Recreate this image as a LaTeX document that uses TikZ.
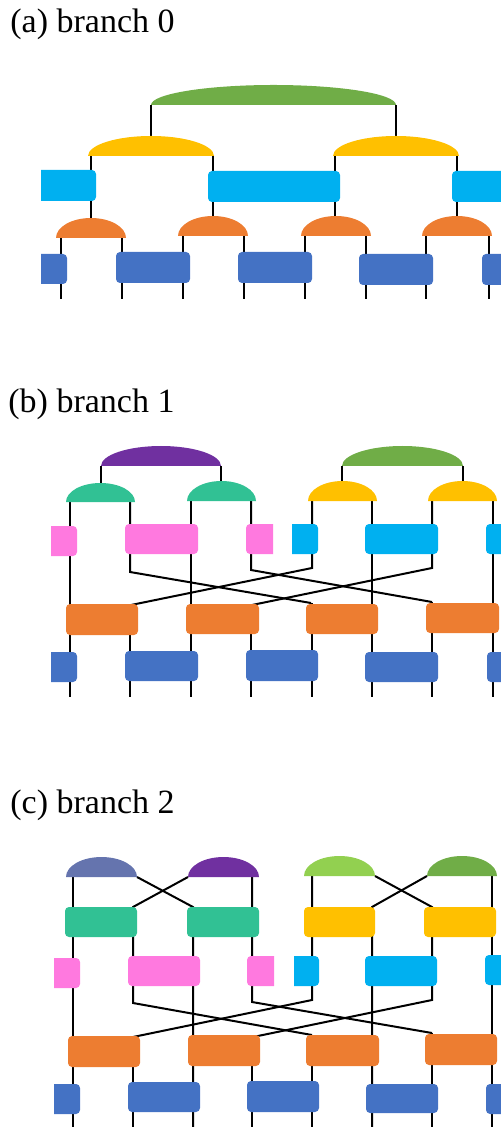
\documentclass[tikz,border=0pt]{standalone}
\usepackage{fontspec}
\setmainfont{Liberation Serif}
\definecolor{cgreen}{HTML}{70AD47}
\definecolor{clgreen}{HTML}{92D050}
\definecolor{cyellow}{HTML}{FFC000}
\definecolor{ccyan}{HTML}{00B0F0}
\definecolor{corange}{HTML}{ED7D31}
\definecolor{cblue}{HTML}{4472C4}
\definecolor{cpurple}{HTML}{7030A0}
\definecolor{cteal}{HTML}{31C194}
\definecolor{cpink}{HTML}{FF79DF}
\definecolor{cslate}{HTML}{6574AE}
% dome: colour, x left, x right, base y, height
\newcommand\mydome[5]{\pgfmathsetmacro\domerx{(#3-#2)/2}\fill[#1] (#2,#4) arc[start angle=180,end angle=360,x radius=\domerx,y radius=#5] -- cycle;}
% box: colour, x1, y1, x2, y2
\newcommand\mybox[5]{\fill[#1,rounded corners=2pt] (#2,#3) rectangle (#4,#5);}
% clipped box: colour, x1, y1, x2, y2, clip x1, clip x2
\newcommand\mycbox[7]{\begin{scope}\clip (#6,#3) rectangle (#7,#5);\fill[#1,rounded corners=2pt] (#2,#3) rectangle (#4,#5);\end{scope}}
\begin{document}
\begin{tikzpicture}[x=0.5pt,y=-0.5pt,
  wire/.style={line width=1pt,black},
  lab/.style={anchor=base west,inner sep=0pt,font=\fontsize{17}{20}\selectfont}]
\useasboundingbox (0,0) rectangle (501,1127);

% ---------------- (a) ----------------
\node[lab] (la) at (10,33) {(a) branch 0};
\draw[wire] (151,105) -- (151,140) (396,105) -- (396,140);
\foreach \x in {91,213,335,457} \draw[wire] (\x,156) -- (\x,222);
\foreach \x in {61,122,183,244,305,366,426,489} \draw[wire] (\x,236) -- (\x,299);
\mydome{cgreen}{151}{396}{105}{20}
\mydome{cyellow}{88}{214}{156}{20}
\mydome{cyellow}{333}{459}{156}{20}
\mydome{corange}{56}{126}{238}{20}
\mydome{corange}{178}{248}{236}{20}
\mydome{corange}{301}{371}{236}{20}
\mydome{corange}{422}{492}{236}{20}
\mycbox{ccyan}{20}{170}{96}{201}{41}{501}
\mybox{ccyan}{208}{171}{340}{202}
\mybox{ccyan}{452}{171}{540}{202}
\mycbox{cblue}{20}{254}{67}{284}{41}{501}
\mybox{cblue}{116}{252}{190}{283}
\mybox{cblue}{238}{252}{312}{283}
\mybox{cblue}{359}{254}{433}{285}
\mybox{cblue}{482}{254}{560}{285}

% ---------------- (b) ----------------
\node[lab] (lb) at (8,413) {(b) branch 1};
\draw[wire] (101,466) -- (101,487) (221,466) -- (221,485) (342,466) -- (342,485) (463,466) -- (463,485);
\foreach \x in {70,191,372,493} \draw[wire] (\x,500) -- (\x,697);
\draw[wire] (130,500) -- (130,572) -- (311,603);
\draw[wire] (251,500) -- (251,570) -- (432,602);
\draw[wire] (312,500) -- (312,568) -- (131,605);
\draw[wire] (432,500) -- (432,568) -- (252,605);
\draw[wire] (130,605) -- (130,697) (251,605) -- (251,697) (312,603) -- (312,697) (432,602) -- (432,697);
\mydome{cpurple}{101}{221}{466}{20}
\mydome{cgreen}{342}{463}{466}{20}
\mydome{cteal}{66}{135}{502}{19}
\mydome{cteal}{187}{256}{501}{20}
\mydome{cyellow}{308}{377}{501}{20}
\mydome{cyellow}{428}{497}{501}{20}
\mycbox{cpink}{20}{526}{77}{556}{51}{501}
\mybox{cpink}{125}{524}{198}{554}
\mycbox{cpink}{246}{524}{300}{554}{0}{273}
\mycbox{ccyan}{265}{524}{318}{554}{292}{501}
\mybox{ccyan}{365}{524}{438}{554}
\mybox{ccyan}{486}{524}{540}{554}
\mybox{corange}{66}{604}{138}{635}
\mybox{corange}{186}{604}{259}{634}
\mybox{corange}{306}{604}{378}{634}
\mybox{corange}{426}{603}{499}{633}
\mycbox{cblue}{20}{652}{77}{682}{51}{501}
\mybox{cblue}{125}{651}{198}{681}
\mybox{cblue}{246}{650}{318}{681}
\mybox{cblue}{365}{652}{438}{682}
\mybox{cblue}{487}{652}{540}{682}

% ---------------- (c) ----------------
\node[lab] (lc) at (10,813) {(c) branch 2};
\draw[wire] (73,877) -- (73,1127);
\draw[wire] (137,877) -- (193,907) -- (193,1127);
\draw[wire] (188,877) -- (133,907) -- (133,1003) -- (312,1035);
\draw[wire] (252,877) -- (252,1002) -- (432,1033);
\draw[wire] (312,876) -- (312,1000) -- (133,1037);
\draw[wire] (375,876) -- (432,907) -- (432,1000) -- (253,1037);
\draw[wire] (427,876) -- (372,907) -- (372,1127);
\draw[wire] (492,876) -- (492,1127);
\draw[wire] (133,1037) -- (133,1127) (252,1037) -- (252,1127) (312,1035) -- (312,1127) (432,1033) -- (432,1127);
\mydome{cslate}{66}{137}{877}{20}
\mydome{cpurple}{188}{259}{877}{20}
\mydome{clgreen}{304}{375}{876}{20}
\mydome{cgreen}{427}{497}{876}{20}
\mybox{cteal}{65}{907}{137}{937}
\mybox{cteal}{187}{907}{259}{937}
\mybox{cyellow}{304}{907}{375}{937}
\mybox{cyellow}{424}{907}{496}{937}
\mycbox{cpink}{20}{958}{80}{988}{54}{501}
\mybox{cpink}{128}{956}{200}{986}
\mycbox{cpink}{247}{956}{300}{986}{0}{274}
\mycbox{ccyan}{265}{956}{319}{986}{294}{501}
\mybox{ccyan}{365}{956}{437}{986}
\mybox{ccyan}{485}{955}{540}{985}
\mybox{corange}{68}{1036}{140}{1067}
\mybox{corange}{188}{1035}{260}{1066}
\mybox{corange}{306}{1035}{379}{1066}
\mybox{corange}{425}{1034}{497}{1065}
\mycbox{cblue}{20}{1084}{80}{1114}{54}{501}
\mybox{cblue}{128}{1082}{200}{1112}
\mybox{cblue}{247}{1081}{319}{1112}
\mybox{cblue}{366}{1084}{438}{1113}
\mybox{cblue}{486}{1084}{540}{1114}
\end{tikzpicture}
\end{document}
